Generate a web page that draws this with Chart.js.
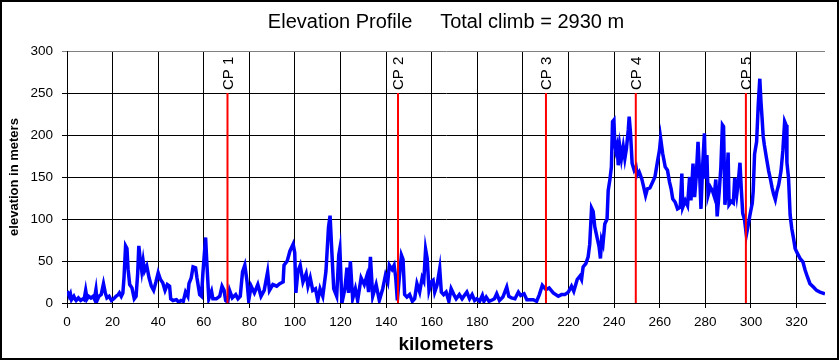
<!DOCTYPE html>
<html>
<head>
<meta charset="utf-8">
<script src="https://cdn.jsdelivr.net/npm/chart.js@4.4.1/dist/chart.umd.min.js"></script>
<style>
  html, body { margin: 0; padding: 0; background: #fff; }
  #wrap { width: 839px; height: 360px; }
</style>
</head>
<body>
<div id="wrap"><canvas id="elevChart" width="839" height="360"></canvas></div>
<script>
// distance along the route (km) and elevation (m)
const profileKm = [
  0, 0.5, 1, 1.5, 2, 3, 3.5, 4, 5, 6,
  7, 7.5, 8.2, 8.8, 9.5, 10.5, 11.5, 12, 12.7, 13.2,
  14, 15, 16, 16.8, 17.5, 18.5, 19.5, 20.5, 21.5, 22.5,
  23, 23.8, 24.5, 25, 25.7, 26.3, 26.8, 27.5, 28.5, 29.5,
  30.3, 31, 31.5, 32.2, 32.8, 33.4, 34, 35, 36, 37,
  38, 39, 40, 41, 42, 43, 44, 45, 45.5, 46.5,
  48, 49, 50, 51, 52, 53, 53.5, 54.5, 55.3, 56.4,
  57, 58.2, 59, 59.6, 60.8, 61.3, 62.2, 63.4, 64, 65.5,
  67, 68, 68.9, 69.6, 70.5, 71.3, 72.5, 74, 75, 76,
  77, 78, 79, 79.7, 80.8, 82.2, 83.7, 85.1, 86.5, 88,
  88.8, 90.3, 92, 93.3, 94.8, 95.2, 96.6, 97.8, 99.2, 99.9,
  100.4, 101.3, 102.3, 103.5, 104.9, 105.7, 106.7, 107.8, 109, 110,
  111, 112.2, 113.6, 114.7, 115.4, 116.1, 117, 118.3, 119.2, 119.7,
  120.6, 121.9, 122.8, 123.5, 124.3, 125.3, 126.5, 127.5, 129, 130.4,
  131.5, 132.3, 133.1, 134.1, 135.6, 137, 138.5, 139.7, 140.7, 141.4,
  142.6, 143.5, 144.2, 144.9, 145.7, 146.7, 147.4, 148.1, 149.1, 150.3,
  151.5, 152.5, 153.5, 154.7, 155.8, 156.5, 157.3, 158, 158.8, 159.8,
  160.6, 161.3, 162.3, 163.5, 164.2, 165.2, 166.3, 167.5, 168.5, 169.7,
  170.7, 172.1, 173.3, 174.3, 175.4, 176.6, 177.7, 178.8, 179.8, 181,
  182.2, 182.9, 183.9, 185.1, 186.1, 187.5, 188.5, 189.7, 191.2, 192.9,
  193.8, 195, 196.5, 198, 199, 200.5, 201.7, 204.5, 206, 207.2,
  208.5, 210.1, 211.5, 213.3, 215.5, 216.9, 218.4, 219.9, 221.3, 222.3,
  223.8, 225, 225.7, 226.4, 227.6, 228.6, 229.3, 230.1, 230.8, 231.5,
  232.5, 233.4, 234, 234.5, 235.1, 235.9, 236.9, 237.4, 238.1, 238.8,
  239.3, 239.9, 240.3, 240.7, 241.3, 241.8, 242.5, 243.2, 244, 244.7,
  245.4, 246.2, 246.6, 247.2, 247.9, 248.8, 249.6, 250.1, 251, 252.1,
  252.8, 253.8, 254.6, 255.7, 256.9, 257.9, 259, 259.9, 260.4, 261.3,
  262.4, 263.4, 264.3, 265, 265.7, 266.8, 267.8, 269, 269.7, 270.1,
  271.2, 272.2, 273.1, 273.7, 274.6, 275.3, 276, 276.8, 277.5, 278.1,
  278.8, 279.6, 280.1, 280.7, 281.2, 282.2, 283.2, 283.9, 284.6, 285.2,
  286.1, 286.8, 287.5, 288, 288.6, 289.3, 290, 290.4, 291.4, 292.3,
  292.9, 293.8, 294.5, 295.2, 295.8, 296.4, 297.2, 298, 298.7, 299.6,
  300.6, 301, 301.6, 302.5, 303.2, 303.9, 304.4, 304.9, 305.4, 305.9,
  306.8, 307.8, 308.6, 309.3, 310, 310.7, 311.4, 312.2, 313.2, 314,
  314.8, 315.4, 315.8, 316.5, 317.2, 317.9, 318.7, 319.4, 320.4, 321.6,
  322.8, 323.8, 324.8, 325.9, 327.4, 328.8, 330.3, 332.5
];
const elevationM = [
  14, 12, 8, 11, 4, 8, 5, 3, 6, 3,
  5, 4, 15, 5, 8, 6, 8, 5, 16, 3,
  8, 10, 23, 12, 6, 8, 3, 5, 8, 10,
  12, 8, 12, 30, 68, 65, 40, 22, 18, 5,
  8, 35, 68, 50, 38, 50, 38, 44, 30, 20,
  15, 25, 36, 28, 24, 15, 22, 20, 5, 3,
  4, 1, 3, 2, 13, 8, 23, 30, 43, 42,
  30, 10, 8, 35, 78, 50, 5, 14, 5, 5,
  8, 20, 15, 3, 1, 15, 6, 10, 5, 8,
  37, 45, 25, 3, 20, 12, 22, 8, 15, 37,
  15, 22, 20, 23, 25, 45, 50, 62, 70, 60,
  12, 38, 45, 25, 35, 20, 30, 15, 17, 3,
  17, 8, 38, 90, 104, 65, 17, 8, 57, 65,
  0, 17, 42, 12, 50, 5, 17, 3, 30, 22,
  32, 13, 55, 8, 22, 3, 17, 33, 25, 45,
  40, 45, 30, 3, 28, 57, 52, 10, 7, 10,
  2, 5, 23, 13, 30, 26, 64, 53, 15, 25,
  27, 13, 21, 41, 13, 10, 13, 2, 17, 10,
  5, 10, 5, 9, 13, 5, 10, 3, 5, 2,
  9, 2, 7, 2, 3, 5, 11, 3, 7, 19,
  8, 6, 5, 13, 9, 11, 4, 4, 2, 10,
  21, 16, 18, 12, 8, 10, 10, 13, 20, 14,
  28, 32, 28, 43, 47, 55, 70, 113, 109, 91,
  78, 67, 53, 75, 70, 94, 100, 134, 146, 162,
  216, 218, 190, 182, 188, 164, 186, 172, 186, 172,
  184, 206, 222, 202, 166, 158, 162, 152, 156, 148,
  140, 128, 136, 137, 144, 150, 168, 182, 196, 178,
  162, 158, 144, 136, 124, 120, 112, 114, 154, 114,
  122, 116, 150, 122, 166, 126, 150, 192, 154, 112,
  162, 202, 148, 176, 128, 138, 133, 127, 147, 103,
  133, 161, 212, 210, 117, 137, 179, 117, 121, 119,
  149, 129, 145, 167, 135, 107, 99, 81, 91, 105,
  119, 133, 177, 192, 235, 267, 240, 220, 198, 188,
  173, 157, 147, 137, 129, 123, 133, 141, 157, 181,
  216, 212, 167, 149, 105, 89, 77, 65, 59, 53,
  49, 39, 31, 23, 19, 15, 13, 11
];

// checkpoints
const cpLabels = ['CP 1', 'CP 2', 'CP 3', 'CP 4', 'CP 5'];
const cpKm = [70.4, 145.2, 210.1, 249.5, 297.8];
const cpTop = 250;

const titleText = 'Elevation Profile     Total climb = 2930 m';
const FONT = "'Liberation Sans', Arial, sans-serif";

const profileData = profileKm.map((k, i) => ({ x: k, y: elevationM[i] }));
const cpData = [];
cpKm.forEach(k => {
  cpData.push({ x: k, y: 0 }, { x: k, y: cpTop }, { x: k, y: null });
});

const framePlugin = {
  id: 'frame',
  beforeDraw(chart) {
    const ctx = chart.ctx;
    ctx.save();
    ctx.fillStyle = '#fff';
    ctx.fillRect(0, 0, chart.width, chart.height);
    ctx.restore();
  },
  afterDatasetsDraw(chart) {
    const ctx = chart.ctx;
    const xs = chart.scales.x, ys = chart.scales.y;
    ctx.save();
    ctx.fillStyle = '#000';
    ctx.font = '15px ' + FONT;
    ctx.textAlign = 'left';
    ctx.textBaseline = 'middle';
    cpKm.forEach((k, i) => {
      const px = xs.getPixelForValue(k);
      const py = ys.getPixelForValue(cpTop) - 3;
      ctx.save();
      ctx.translate(px + 1, py);
      ctx.rotate(-Math.PI / 2);
      ctx.fillText(cpLabels[i], 0, 0);
      ctx.restore();
    });
    ctx.restore();
  },
  afterDraw(chart) {
    const ctx = chart.ctx;
    const a = chart.chartArea;
    ctx.save();
    ctx.fillStyle = '#000';
    ctx.font = '20px ' + FONT;
    ctx.textAlign = 'center';
    ctx.textBaseline = 'middle';
    ctx.fillText(titleText, (a.left + a.right) / 2, 22);
    ctx.strokeStyle = '#000';
    ctx.lineWidth = 2;
    ctx.strokeRect(1, 1, chart.width - 2, chart.height - 2);
    ctx.restore();
  }
};

new Chart(document.getElementById('elevChart'), {
  type: 'line',
  data: {
    datasets: [
      {
        label: 'CP',
        data: cpData,
        borderColor: '#ff0000',
        borderWidth: 2,
        pointRadius: 0,
        spanGaps: false,
        order: 0
      },
      {
        label: 'Elevation',
        data: profileData,
        borderColor: '#0000ff',
        borderWidth: 3.5,
        pointRadius: 0,
        tension: 0,
        order: 1
      }
    ]
  },
  options: {
    responsive: false,
    animation: false,
    layout: { padding: { top: 51, right: 14, left: 0, bottom: 0 } },
    plugins: {
      legend: { display: false },
      tooltip: { enabled: false }
    },
    scales: {
      x: {
        type: 'linear',
        min: 0,
        max: 332.5,
        afterFit(scale) { scale.height = 57; },
        ticks: {
          stepSize: 20,
          includeBounds: false,
          color: '#000',
          padding: 6,
          maxRotation: 0,
          font: { family: FONT, size: 13.5 }
        },
        grid: { color: '#000', lineWidth: 1, tickLength: 5 },
        border: { color: '#000', width: 1 },
        title: {
          display: true,
          text: 'kilometers',
          color: '#000',
          font: { family: FONT, size: 19, weight: 'bold' },
          padding: { top: 0, bottom: 4 }
        }
      },
      y: {
        min: 0,
        max: 300,
        afterFit(scale) { scale.width = 67; },
        ticks: {
          stepSize: 50,
          color: '#000',
          padding: 9,
          font: { family: FONT, size: 13.5 }
        },
        grid: {
          color: ctx => (ctx.tick && ctx.tick.value === 300 ? '#808080' : '#000'),
          lineWidth: 1,
          tickLength: 5
        },
        border: { color: '#000', width: 1 },
        title: {
          display: true,
          text: 'elevation in meters',
          color: '#000',
          font: { family: FONT, size: 13, weight: 'bold' },
          padding: { top: 7, bottom: 0 }
        }
      }
    }
  },
  plugins: [framePlugin]
});
</script>
</body>
</html>
